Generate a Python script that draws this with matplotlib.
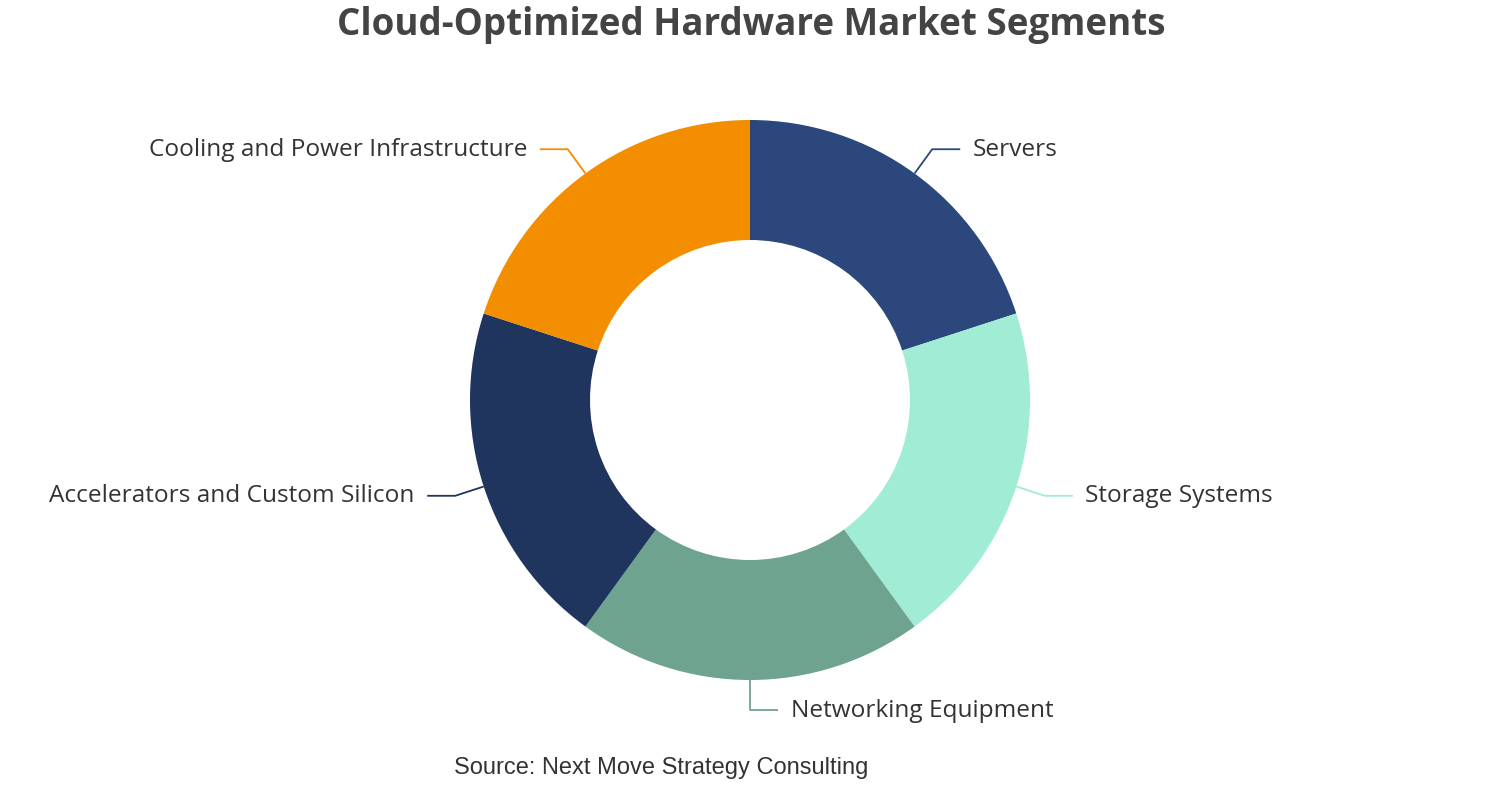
import matplotlib
matplotlib.use("Agg")
import matplotlib.pyplot as plt
import numpy as np

categories = ["Servers", "Storage Systems", "Networking Equipment",
              "Accelerators and Custom Silicon", "Cooling and Power Infrastructure"]
values = [20, 20, 20, 20, 20]
colors = ["#2b477b", "#a0ecd4", "#6ea48f", "#1f355e", "#f28e00"]

W, H = 1502, 800
fig = plt.figure(figsize=(W / 100, H / 100), dpi=100)
cx, cy, R = 750, 400, 280
ax = fig.add_axes([(cx - R) / W, (H - cy - R) / H, 2 * R / W, 2 * R / H])
ax.axis("off")

wedges, _ = ax.pie(values, colors=colors, startangle=90, counterclock=False,
                   radius=1.0, wedgeprops=dict(width=120 / 280, edgecolor="none"))
ax.set_xlim(-1, 1)
ax.set_ylim(-1, 1)
ax.set_aspect("equal")

for w, lab, col in zip(wedges, categories, colors):
    ang = np.deg2rad((w.theta1 + w.theta2) / 2)
    x0, y0 = np.cos(ang), np.sin(ang)
    x1, y1 = 1.107 * x0, 1.107 * y0
    if abs(x0) < 1e-6:
        x1, y1 = 0, -1.107
    right = x0 > -1e-6
    x2 = x1 + (0.1 if right else -0.1)
    ax.plot([x0, x1, x2], [y0, y1, y1], color=col, lw=1.3, clip_on=False,
            solid_capstyle="butt")
    ax.text(x2 + (0.045 if right else -0.045), y1 - 0.002, lab,
            ha="left" if right else "right",
            va="center", fontsize=17.6, color="#333333", family="Open Sans")

fig.text(751 / W, 1 - 25 / H, "Cloud-Optimized Hardware Market Segments", ha="center",
         va="center", fontsize=26.5, fontweight="bold", color="#444444", family="Open Sans")
fig.text(661 / W, 1 - 768 / H, "Source: Next Move Strategy Consulting", ha="center",
         va="center", fontsize=17, color="#333333", family="Liberation Sans")

fig.savefig("out.png", dpi=100, facecolor="white")
